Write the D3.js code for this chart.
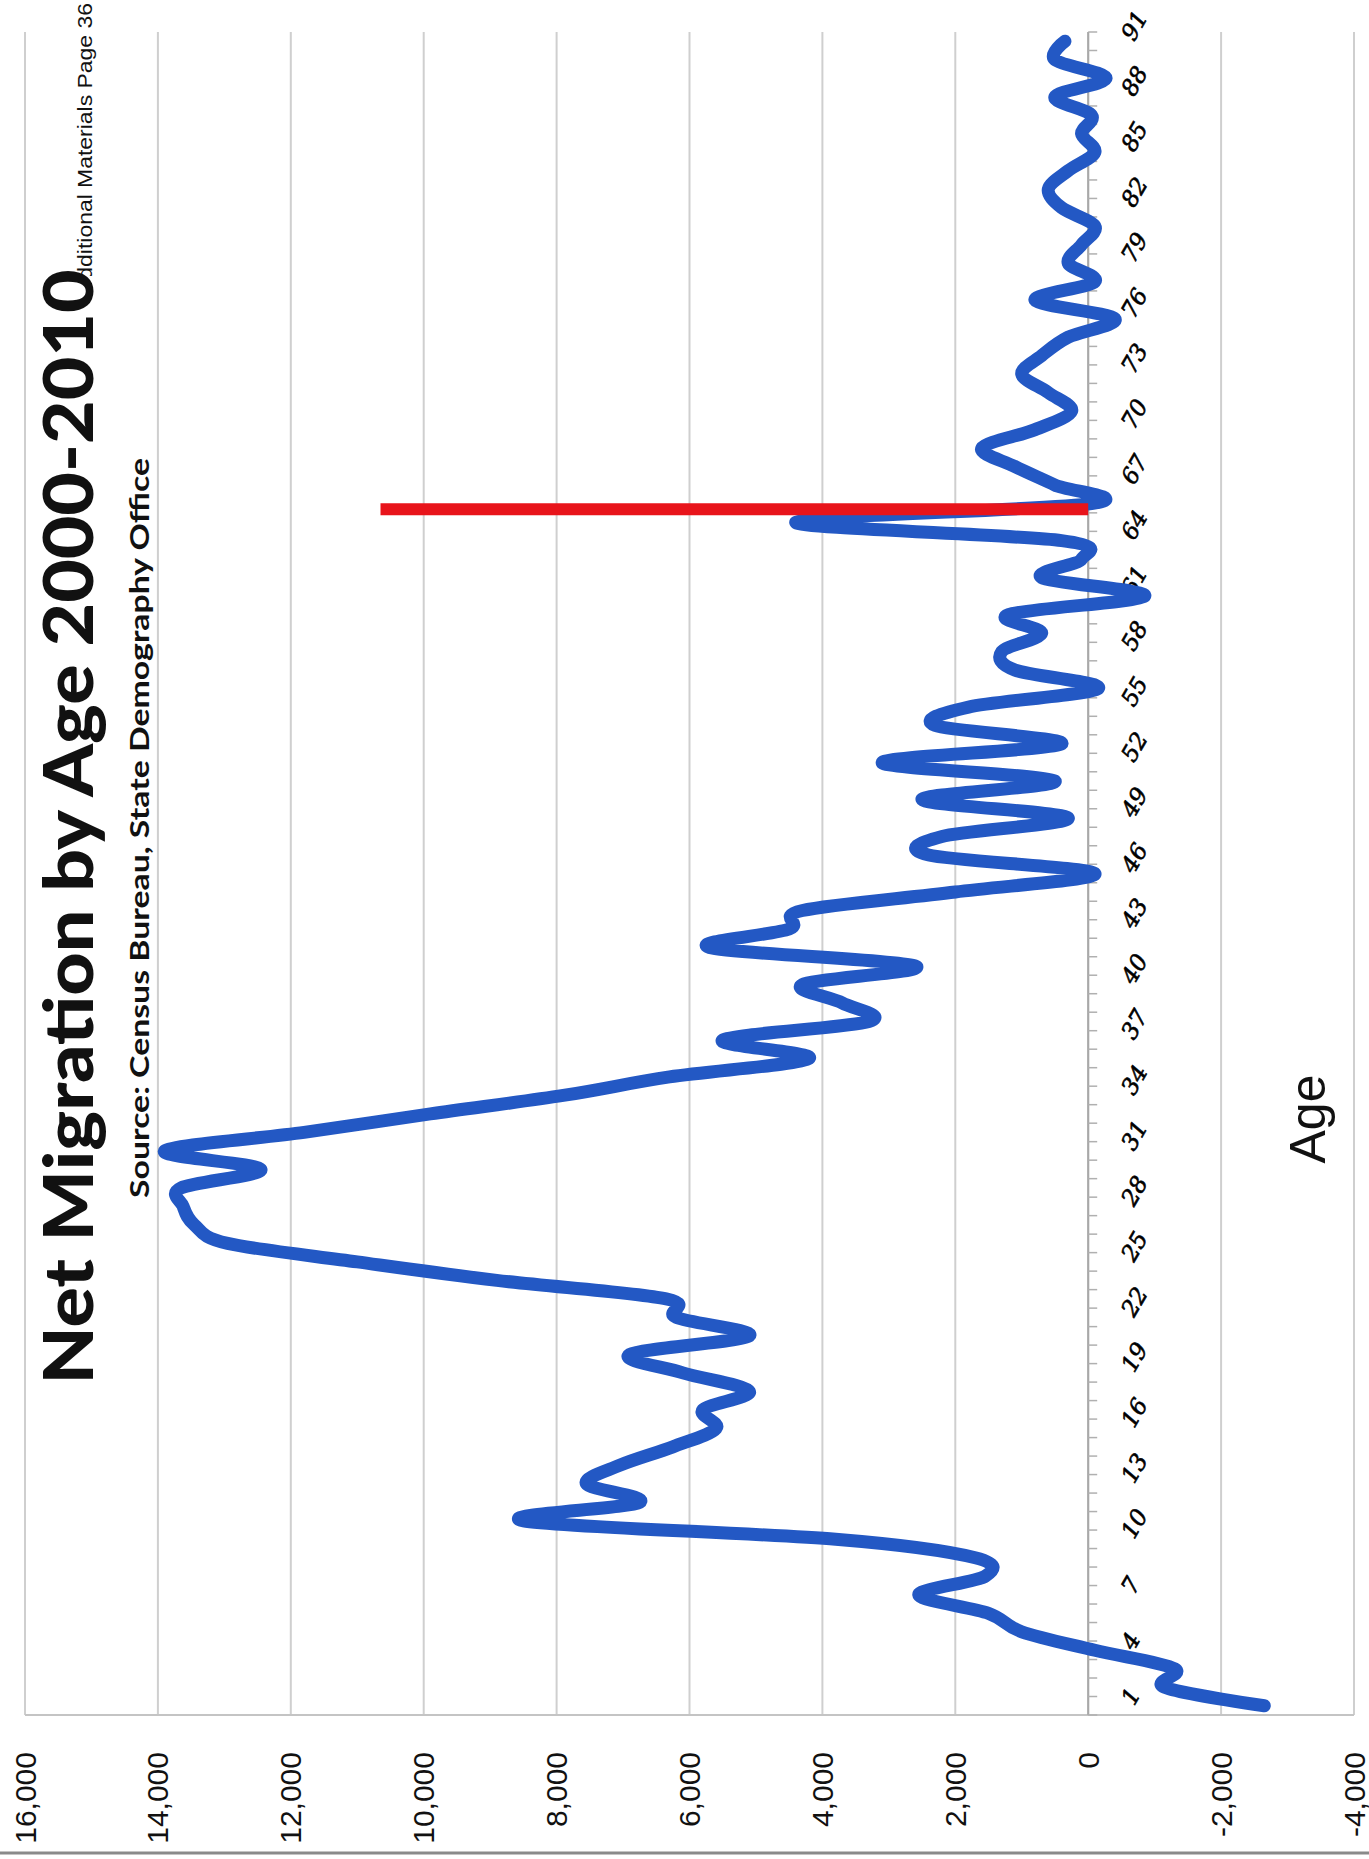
<!DOCTYPE html>
<html>
<head>
<meta charset="utf-8">
<script src="https://cdn.jsdelivr.net/npm/d3@7"></script>
<style>
  html, body { margin: 0; padding: 0; background: #ffffff; }
  svg { display: block; }
</style>
</head>
<body>
<svg id="chart" width="1369" height="1859"></svg>
<script>
// Net migration by single year of age, 2000-2010 (persons)
const ages = d3.range(1, 92);
const netMigration = [
  -2650, -1150, -1300, -100, 1000, 1500, 2550, 1550, 1700, 3800,
   8500,  6750,  7550, 7050, 6250, 5600, 5800, 5100, 6100, 6900,
   5100,  6200,  6350, 8900, 11000, 12950, 13450, 13620, 13650, 12450,
  13900, 11800,  9900, 7900, 6300, 4200, 5500, 3300, 3700, 4300,
   2600,  5700,  4500, 4300, 2000, -100, 2400, 2200, 300, 2500,
    500,  3100,   400, 2300, 1800, -150, 1100, 1300, 700, 1200,
   -850,   700,   100,  400, 4400,  -50,  500, 1100, 1600, 800,
    250,   600,  1000,  700,  300, -400,  800, -100, 300, 100,
   -100,   400,   600,  300, -100,  100,  -50,  500, -270, 500,
    350
];
const valueTicks = [16000, 14000, 12000, 10000, 8000, 6000, 4000, 2000, 0, -2000, -4000];
const ageTickLabels = ages.filter(a => (a - 1) % 3 === 0);
// Retirement-age marker: position on the age axis and its upper value
const markerAge = [65.7];
const markerTop = [10650];

const titleText = "Net Migration by Age 2000-2010";
const subtitleText = "Source: Census Bureau, State Demography Office";
const axisTitleText = "Age";
const pageNoteText = "Additional Materials Page 36";

const svg = d3.select("#chart");

// The chart is laid out sideways: values run right-to-left, ages bottom-to-top.
const x = d3.scaleLinear().domain([-4000, 16000]).range([1354, 25]);
const y = d3.scaleLinear().domain([0.5, 91.5]).range([1715, 32]);
const fmt = d3.formatLocale({ decimal: ".", thousands: ",", grouping: [3], currency: ["$", ""], minus: "-" }).format(",");

const series = ages.map((a, i) => ({ age: a, value: netMigration[i] }));

// Value gridlines
svg.append("g")
  .selectAll("line")
  .data(valueTicks)
  .join("line")
  .attr("x1", d => x(d)).attr("x2", d => x(d))
  .attr("y1", y(91.5)).attr("y2", y(0.5))
  .attr("stroke", "#cfcfcf")
  .attr("stroke-width", 2);

// Plot edge at the start of the age axis
svg.append("line")
  .attr("x1", x(16000)).attr("x2", x(-4000))
  .attr("y1", y(0.5)).attr("y2", y(0.5))
  .attr("stroke", "#c4c4c4")
  .attr("stroke-width", 2);

// Value labels
svg.append("g")
  .selectAll("text")
  .data(valueTicks)
  .join("text")
  .attr("transform", d => `translate(${x(d)},1752) rotate(-90)`)
  .attr("text-anchor", "end")
  .attr("dominant-baseline", "central")
  .attr("font-family", "'Liberation Sans', Arial, sans-serif")
  .attr("font-size", 30)
  .attr("fill", "#111")
  .text(d => fmt(d));

// Age axis line and category tick marks
const ageAxis = svg.append("g");
ageAxis.append("line")
  .attr("x1", x(0)).attr("x2", x(0))
  .attr("y1", y(91.5)).attr("y2", y(0.5))
  .attr("stroke", "#a8a8a8")
  .attr("stroke-width", 2);
ageAxis.selectAll("line.tick")
  .data(d3.range(0.5, 92, 1))
  .join("line")
  .attr("class", "tick")
  .attr("x1", x(0)).attr("x2", x(0) + 9)
  .attr("y1", d => y(d)).attr("y2", d => y(d))
  .attr("stroke", "#b0b0b0")
  .attr("stroke-width", 1.5);

// Age labels, every third year
ageAxis.selectAll("text")
  .data(ageTickLabels)
  .join("text")
  .attr("transform", d => `translate(1127,${y(d) - 3}) rotate(-60)`)
  .attr("text-anchor", "start")
  .attr("dominant-baseline", "central")
  .attr("font-family", "'DejaVu Serif', 'Liberation Serif', serif")
  .attr("font-style", "italic")
  .attr("font-size", 23)
  .attr("fill", "#000")
  .attr("stroke", "#000")
  .attr("stroke-width", 0.6)
  .text(d => d);

// Net migration line
const line = d3.line()
  .x(d => x(d.value))
  .y(d => y(d.age))
  .curve(d3.curveCatmullRom.alpha(0));

svg.append("path")
  .datum(series)
  .attr("d", line)
  .attr("fill", "none")
  .attr("stroke", "#2358c4")
  .attr("stroke-width", 13)
  .attr("stroke-linecap", "round")
  .attr("stroke-linejoin", "round");

// Retirement-age marker
svg.append("g")
  .selectAll("line")
  .data(markerAge.map((a, i) => ({ age: a, top: markerTop[i] })))
  .join("line")
  .attr("x1", x(0)).attr("x2", d => x(d.top))
  .attr("y1", d => y(d.age)).attr("y2", d => y(d.age))
  .attr("stroke", "#e8141b")
  .attr("stroke-width", 12);

// Axis title
svg.append("text")
  .attr("transform", `translate(1325,1119) rotate(-90)`)
  .attr("text-anchor", "middle")
  .attr("font-family", "'Liberation Sans', Arial, sans-serif")
  .attr("font-size", 50)
  .attr("fill", "#111")
  .text(axisTitleText);

// Page note along the top edge
svg.append("text")
  .attr("transform", `translate(92,3) rotate(-90)`)
  .attr("text-anchor", "end")
  .attr("font-family", "'Liberation Sans', Arial, sans-serif")
  .attr("font-size", 20)
  .attr("textLength", 292)
  .attr("lengthAdjust", "spacingAndGlyphs")
  .attr("fill", "#111")
  .text(pageNoteText);

// Title block
svg.append("rect")
  .attr("x", 40).attr("y", 276)
  .attr("width", 60).attr("height", 1116)
  .attr("fill", "#ffffff");

svg.append("text")
  .attr("transform", `translate(93,827) rotate(-90)`)
  .attr("text-anchor", "middle")
  .attr("font-family", "Lato, 'Open Sans', sans-serif")
  .attr("font-weight", 900)
  .attr("font-size", 68)
  .attr("textLength", 1115)
  .attr("lengthAdjust", "spacingAndGlyphs")
  .attr("fill", "#111")
  .text(titleText);

svg.append("text")
  .attr("transform", `translate(149,828) rotate(-90)`)
  .attr("text-anchor", "middle")
  .attr("font-family", "Lato, 'Open Sans', sans-serif")
  .attr("font-weight", 700)
  .attr("font-size", 27)
  .attr("textLength", 740)
  .attr("lengthAdjust", "spacingAndGlyphs")
  .attr("fill", "#111")
  .text(subtitleText);

// Frame edge along the bottom
svg.append("line")
  .attr("x1", 0).attr("x2", 1369)
  .attr("y1", 1853).attr("y2", 1853)
  .attr("stroke", "#8a8a8a")
  .attr("stroke-width", 3);
</script>
</body>
</html>
